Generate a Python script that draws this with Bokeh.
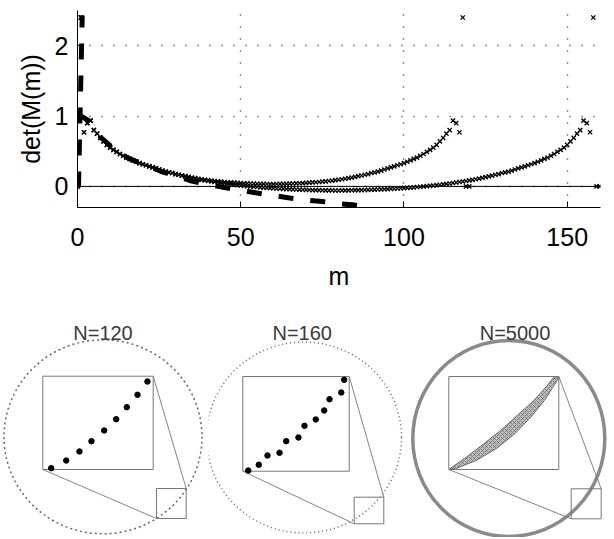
from bokeh.plotting import figure
from bokeh.models import Range1d, Span, FixedTicker
from bokeh.layouts import column, row
from bokeh.embed import file_html
from bokeh.resources import INLINE
from bokeh.core.properties import value

# ---------------- data ----------------
m_120 = list(range(0, 121))
det_120 = [0.0, 2.40, 0.77, 0.90, 0.935, 0.80, 0.75, 0.69, 0.64, 0.59,
           0.55, 0.52, 0.49, 0.46, 0.435, 0.41, 0.39, 0.37, 0.35, 0.33,
           0.315, 0.30, 0.285, 0.27, 0.255, 0.24, 0.225, 0.21, 0.20, 0.19,
           0.175, 0.165, 0.155, 0.145, 0.135, 0.125, 0.117, 0.109, 0.101, 0.094,
           0.088, 0.082, 0.077, 0.072, 0.067, 0.063, 0.059, 0.056, 0.053, 0.050,
           0.047, 0.045, 0.043, 0.041, 0.039, 0.037, 0.036, 0.035, 0.034, 0.033,
           0.033, 0.034, 0.035, 0.036, 0.037, 0.039, 0.041, 0.043, 0.045, 0.047,
           0.050, 0.053, 0.056, 0.059, 0.063, 0.067, 0.072, 0.077, 0.082, 0.088,
           0.094, 0.101, 0.109, 0.117, 0.125, 0.135, 0.145, 0.155, 0.165, 0.175,
           0.19, 0.20, 0.21, 0.225, 0.24, 0.255, 0.27, 0.285, 0.30, 0.315,
           0.33, 0.35, 0.37, 0.39, 0.41, 0.435, 0.46, 0.49, 0.52, 0.55,
           0.59, 0.64, 0.69, 0.75, 0.80, 0.935, 0.90, 0.77, 2.40, 0.0,
           0.0]

m_160 = list(range(0, 161))
det_160 = [0.0, 2.40, 0.77, 0.90, 0.935, 0.80, 0.75, 0.69, 0.64, 0.59,
           0.55, 0.52, 0.49, 0.46, 0.435, 0.41, 0.39, 0.37, 0.35, 0.33,
           0.315, 0.30, 0.285, 0.27, 0.255, 0.24, 0.225, 0.21, 0.20, 0.19,
           0.175, 0.165, 0.153, 0.142, 0.131, 0.121, 0.111, 0.102, 0.093, 0.085,
           0.077, 0.069, 0.062, 0.055, 0.048, 0.041, 0.035, 0.029, 0.023, 0.018,
           0.013, 0.008, 0.003, -0.001, -0.005, -0.009, -0.013, -0.017, -0.021, -0.024,
           -0.027, -0.030, -0.033, -0.036, -0.038, -0.040, -0.042, -0.044, -0.046, -0.048,
           -0.050, -0.051, -0.052, -0.053, -0.054, -0.055, -0.056, -0.057, -0.057, -0.058,
           -0.058, -0.057, -0.057, -0.056, -0.055, -0.054, -0.053, -0.052, -0.051, -0.050,
           -0.048, -0.046, -0.044, -0.042, -0.040, -0.038, -0.036, -0.033, -0.030, -0.027,
           -0.024, -0.021, -0.017, -0.013, -0.009, -0.005, -0.001, 0.003, 0.008, 0.013,
           0.018, 0.023, 0.029, 0.035, 0.041, 0.048, 0.055, 0.062, 0.069, 0.077,
           0.085, 0.093, 0.102, 0.111, 0.121, 0.131, 0.142, 0.153, 0.165, 0.175,
           0.19, 0.20, 0.21, 0.225, 0.24, 0.255, 0.27, 0.285, 0.30, 0.315,
           0.33, 0.35, 0.37, 0.39, 0.41, 0.435, 0.46, 0.49, 0.52, 0.55,
           0.59, 0.64, 0.69, 0.75, 0.80, 0.935, 0.90, 0.77, 2.40, 0.0,
           0.0]

# asymptotic approximation (thick dashed curve)
approx_m = [0, 3.5, 7, 12, 16, 21, 25.5, 30, 35, 40, 45, 50, 55, 60, 65, 70, 75, 80, 85, 89]
approx_det = [1.03, 0.93, 0.70, 0.50, 0.39, 0.30, 0.215, 0.15, 0.075, 0.025, -0.015,
              -0.055, -0.095, -0.13, -0.165, -0.195, -0.215, -0.245, -0.265, -0.28]
spike_m = [0.3, 1.45]
spike_det = [-0.015, 2.43]

x_ticks = [0, 50, 100, 150]
y_ticks = [0, 1, 2]

panel_titles = ["N=120", "N=160", "N=5000"]
# eigenvalue dots inside the magnified boxes (fractions of the box width / height)
inset_u_120 = [0.076, 0.212, 0.332, 0.441, 0.556, 0.665, 0.761, 0.858, 0.948]
inset_v_120 = [0.014, 0.096, 0.193, 0.303, 0.418, 0.539, 0.668, 0.801, 0.943]
inset_u_160 = [0.051, 0.150, 0.232, 0.345, 0.408, 0.523, 0.580, 0.686, 0.765, 0.815, 0.925, 0.953]
inset_v_160 = [0.007, 0.068, 0.166, 0.194, 0.317, 0.356, 0.479, 0.546, 0.641, 0.760, 0.831, 0.965]
# N=5000: dense band of eigenvalues (upper-left edge, then lower-right edge)
band_upper_u = [0.009, 0.167, 0.318, 0.47, 0.622, 0.773, 0.895, 0.949]
band_upper_v = [0.008, 0.14, 0.276, 0.419, 0.581, 0.742, 0.903, 0.986]
band_lower_u = [0.06, 0.25, 0.43, 0.60, 0.76, 0.88, 1.0]
band_lower_v = [0.008, 0.097, 0.223, 0.384, 0.581, 0.760, 0.986]

FONT = "Liberation Sans"

# ---------------- top plot ----------------
p = figure(width=612, height=300, x_range=Range1d(0, 160.2), y_range=Range1d(-0.3, 2.5),
           output_backend="svg", toolbar_location=None,
           min_border_left=77, min_border_right=12, min_border_top=10, min_border_bottom=93)
p.outline_line_color = None

for ax in (p.xaxis[0], p.yaxis[0]):
    ax.major_tick_in = 6
    ax.major_tick_out = 0
    ax.minor_tick_in = 0
    ax.minor_tick_out = 0
    ax.axis_line_color = "black"
    ax.major_tick_line_color = "black"
    ax.major_label_text_font = FONT
    ax.major_label_text_font_size = "25px"
    ax.major_label_text_color = "black"
    ax.axis_label_text_font = FONT
    ax.axis_label_text_font_size = "25px"
    ax.axis_label_text_font_style = "normal"
    ax.axis_label_text_color = "black"

p.xaxis.ticker = FixedTicker(ticks=x_ticks)
p.yaxis.ticker = FixedTicker(ticks=y_ticks)
p.xaxis.axis_label = "m"
p.yaxis.axis_label = "det(M(m))"
p.xaxis.major_label_standoff = 20
p.yaxis.major_label_standoff = 9
p.xaxis.axis_label_standoff = 13
p.yaxis.axis_label_standoff = 7

for g in (p.xgrid[0], p.ygrid[0]):
    g.grid_line_color = "#222222"
    g.grid_line_dash = "1 11"
    g.grid_line_width = 1.4

p.add_layout(Span(location=0, dimension="width", line_color="black", line_width=1))

p.scatter(m_120, det_120, marker="x", size=6, line_color="black", line_width=1.3)
p.scatter(m_160, det_160, marker="x", size=6, line_color="black", line_width=1.3)
p.line(approx_m, approx_det, line_color="black", line_width=5, line_dash="15 17")
p.line(spike_m, spike_det, line_color="black", line_width=5, line_dash="16 16")

# ---------------- bottom panels ----------------
PANEL_H = 237
panels_cfg = [
    # width, circle centre/radii, box (l, r, b, t), square (l, r, b, t), title x
    dict(W=208, cx=102.5, cy=102.7, rx=99, ry=97, box=(42.3, 152.7, 70.0, 163.3),
         sq=(156.0, 185.7, 21.0, 51.0), tx=102.5),
    dict(W=200, cx=95.5, cy=102.0, rx=97.5, ry=95.5, box=(34.3, 140.7, 68.3, 163.0),
         sq=(145.7, 175.3, 15.7, 42.3), tx=93.7),
    dict(W=204, cx=100.3, cy=101.0, rx=96, ry=98, box=(40.3, 150.3, 70.0, 163.0),
         sq=(162.7, 192.7, 20.7, 50.7), tx=106.5),
]

panels = []
for i, cfg in enumerate(panels_cfg):
    q = figure(width=cfg["W"], height=PANEL_H, x_range=Range1d(0, cfg["W"]),
               y_range=Range1d(2, 2 + PANEL_H), output_backend="svg", toolbar_location=None,
               min_border=0)
    q.axis.visible = False
    q.grid.visible = False
    q.outline_line_color = None

    if i == 0:
        q.ellipse(x=cfg["cx"], y=cfg["cy"], width=2 * cfg["rx"], height=2 * cfg["ry"],
                  fill_color=None, line_color="#666666", line_width=1.5, line_dash="2 3")
    elif i == 1:
        q.ellipse(x=cfg["cx"], y=cfg["cy"], width=2 * cfg["rx"], height=2 * cfg["ry"],
                  fill_color=None, line_color="#666666", line_width=1.5, line_dash="1 3")
    else:
        q.ellipse(x=cfg["cx"], y=cfg["cy"], width=2 * cfg["rx"], height=2 * cfg["ry"],
                  fill_color=None, line_color="#8a8a8a", line_width=3.5)

    l, r, b, t = cfg["box"]
    sl, sr, sb, st = cfg["sq"]
    q.segment(x0=[r, l], y0=[t, b], x1=[sr, sl], y1=[st, sb], line_color="#777777", line_width=0.9)
    q.quad(left=[l, sl], right=[r, sr], bottom=[b, sb], top=[t, st],
           fill_color="white", fill_alpha=[1.0, 0.0], line_color="#777777", line_width=1)

    if i == 0:
        q.scatter([l + u * (r - l) for u in inset_u_120], [b + v * (t - b) for v in inset_v_120],
                  size=5.5, color="black")
    elif i == 1:
        q.scatter([l + u * (r - l) for u in inset_u_160], [b + v * (t - b) for v in inset_v_160],
                  size=5.5, color="black")
    else:
        bx = [l + u * (r - l) for u in band_upper_u] + [l + u * (r - l) for u in band_lower_u[::-1]]
        by = [b + v * (t - b) for v in band_upper_v] + [b + v * (t - b) for v in band_lower_v[::-1]]
        q.patch(bx, by, fill_color="#c0c0c0", line_color="#555555", line_width=0.8,
                hatch_pattern="x", hatch_color="#555555", hatch_scale=4, hatch_weight=0.6)

    q.text(x=[cfg["tx"]], y=[207], text=[panel_titles[i]], text_font=value(FONT),
           text_font_size="20px", text_color="#3a3a3a", text_align="center",
           text_baseline="alphabetic")
    panels.append(q)

layout = column(p, row(*panels))
open("out.html", "w").write(file_html(layout, INLINE))
